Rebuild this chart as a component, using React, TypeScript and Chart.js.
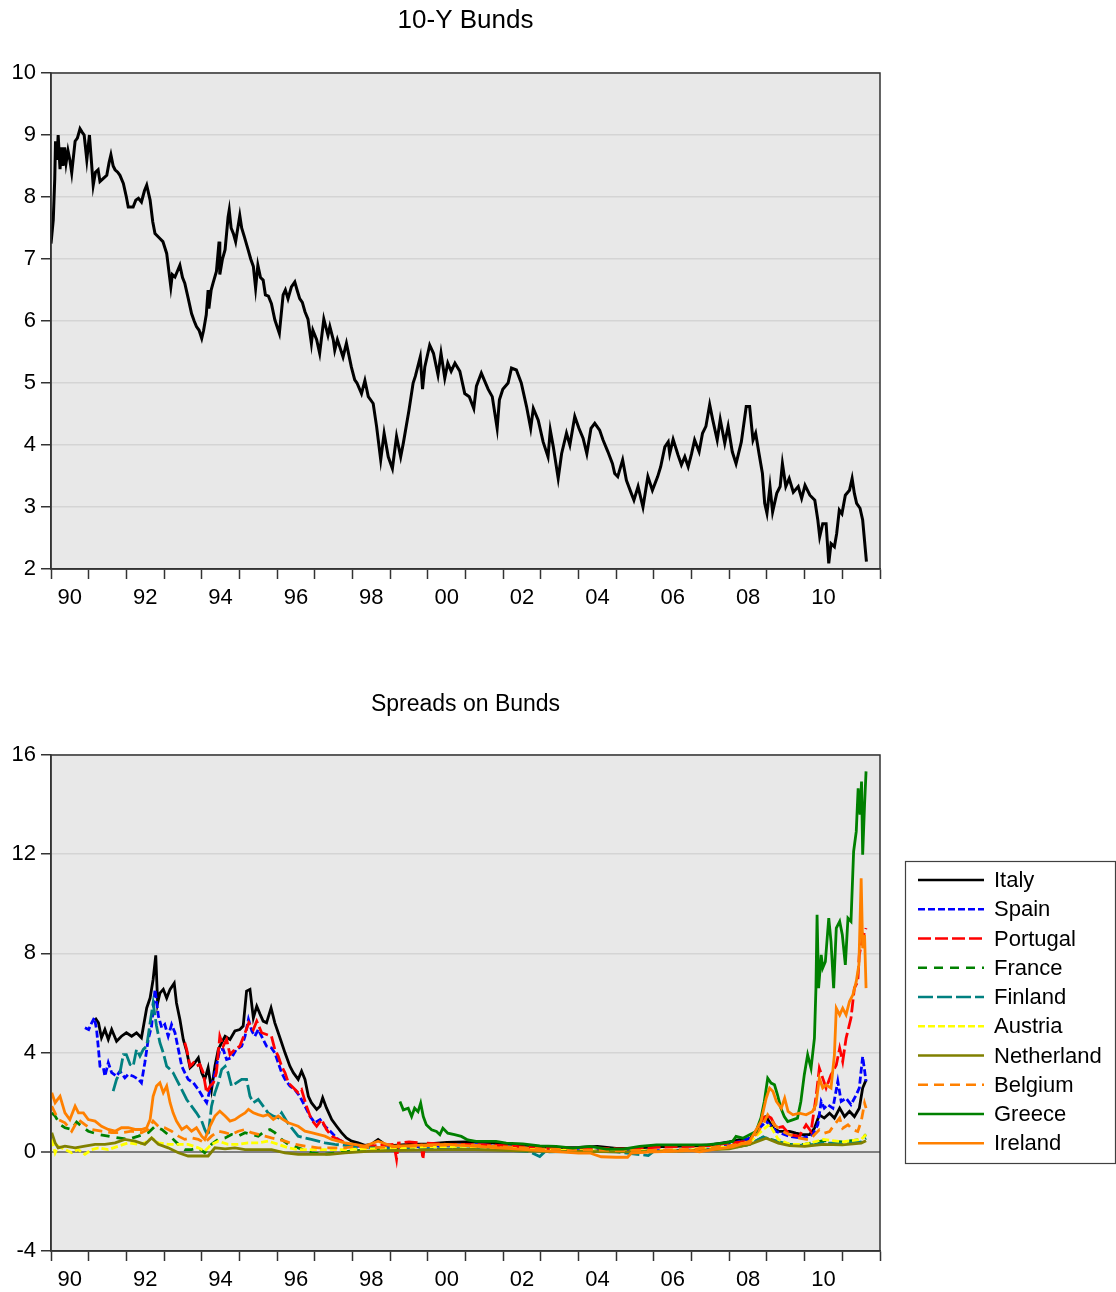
import React, { useEffect, useRef } from 'react';
import { Chart, registerables } from 'chart.js';

Chart.register(...registerables);

type Pt = [number, number];

const FONT = "'Liberation Sans', Arial, Helvetica, sans-serif";

// ---------- axis data ----------
const X_TICK_YEARS = [1990, 1991, 1992, 1993, 1994, 1995, 1996, 1997, 1998, 1999, 2000, 2001, 2002, 2003, 2004, 2005, 2006, 2007, 2008, 2009, 2010, 2011, 2012];
const X_LABEL_YEARS = [1990, 1992, 1994, 1996, 1998, 2000, 2002, 2004, 2006, 2008, 2010];
const X_LABELS = ['90', '92', '94', '96', '98', '00', '02', '04', '06', '08', '10'];

const TITLE_TOP = '10-Y Bunds';
const TITLE_BOTTOM = 'Spreads on Bunds';

// ---------- 10-Y Bund yield ----------
const BUNDS: Pt[] = [
  [1990.00, 7.25], [1990.06, 7.63], [1990.10, 8.3], [1990.12, 8.9], [1990.16, 8.6], [1990.19, 9.0], [1990.24, 8.45], [1990.28, 8.8], [1990.32, 8.5], [1990.36, 8.8], [1990.40, 8.55], [1990.45, 8.75], [1990.50, 8.6], [1990.55, 8.39], [1990.64, 8.9], [1990.70, 8.95], [1990.77, 9.1], [1990.82, 9.05], [1990.88, 9.0], [1990.95, 8.6], [1991.02, 9.0], [1991.07, 8.6], [1991.12, 8.19], [1991.18, 8.4], [1991.25, 8.44], [1991.30, 8.25], [1991.39, 8.3], [1991.48, 8.35], [1991.54, 8.55], [1991.59, 8.68], [1991.65, 8.5], [1991.70, 8.44], [1991.77, 8.4], [1991.83, 8.35], [1991.92, 8.22], [1992.00, 8.0], [1992.05, 7.84], [1992.18, 7.84], [1992.25, 7.95], [1992.32, 7.98], [1992.40, 7.92], [1992.48, 8.1], [1992.54, 8.19], [1992.63, 7.95], [1992.70, 7.6], [1992.76, 7.41], [1992.89, 7.33], [1992.97, 7.28], [1993.07, 7.09], [1993.18, 6.55], [1993.22, 6.75], [1993.29, 6.71], [1993.42, 6.9], [1993.49, 6.7], [1993.55, 6.61], [1993.64, 6.37], [1993.73, 6.12], [1993.80, 6.0], [1993.86, 5.91], [1993.93, 5.85], [1994.00, 5.72], [1994.05, 5.85], [1994.12, 6.1], [1994.17, 6.5], [1994.19, 6.2], [1994.25, 6.5], [1994.30, 6.61], [1994.39, 6.8], [1994.46, 7.28], [1994.48, 6.75], [1994.55, 7.0], [1994.62, 7.15], [1994.70, 7.68], [1994.73, 7.79], [1994.78, 7.5], [1994.84, 7.41], [1994.90, 7.28], [1995.01, 7.7], [1995.06, 7.5], [1995.13, 7.36], [1995.23, 7.15], [1995.30, 7.0], [1995.37, 6.88], [1995.43, 6.53], [1995.49, 6.9], [1995.56, 6.7], [1995.63, 6.66], [1995.69, 6.42], [1995.77, 6.4], [1995.85, 6.28], [1995.94, 6.02], [1996.06, 5.8], [1996.16, 6.42], [1996.22, 6.5], [1996.29, 6.36], [1996.38, 6.55], [1996.47, 6.63], [1996.53, 6.5], [1996.60, 6.36], [1996.67, 6.3], [1996.74, 6.15], [1996.82, 6.03], [1996.91, 5.64], [1996.95, 5.85], [1997.05, 5.7], [1997.13, 5.48], [1997.24, 6.03], [1997.35, 5.77], [1997.40, 5.91], [1997.49, 5.7], [1997.53, 5.53], [1997.60, 5.7], [1997.68, 5.55], [1997.75, 5.42], [1997.84, 5.64], [1997.97, 5.26], [1998.06, 5.05], [1998.12, 5.0], [1998.24, 4.83], [1998.33, 5.04], [1998.42, 4.78], [1998.55, 4.67], [1998.64, 4.3], [1998.75, 3.76], [1998.84, 4.19], [1998.95, 3.81], [1999.06, 3.62], [1999.17, 4.14], [1999.28, 3.81], [1999.35, 4.03], [1999.50, 4.56], [1999.61, 5.0], [1999.67, 5.11], [1999.80, 5.42], [1999.86, 4.9], [1999.92, 5.26], [2000.05, 5.61], [2000.15, 5.48], [2000.27, 5.13], [2000.35, 5.48], [2000.45, 5.08], [2000.53, 5.32], [2000.62, 5.19], [2000.72, 5.32], [2000.85, 5.19], [2000.98, 4.83], [2001.10, 4.78], [2001.22, 4.59], [2001.29, 4.95], [2001.42, 5.16], [2001.51, 5.03], [2001.60, 4.9], [2001.71, 4.78], [2001.84, 4.27], [2001.90, 4.73], [2001.99, 4.9], [2002.13, 5.0], [2002.22, 5.24], [2002.35, 5.21], [2002.48, 5.0], [2002.62, 4.62], [2002.73, 4.27], [2002.80, 4.59], [2002.93, 4.4], [2003.06, 4.05], [2003.19, 3.81], [2003.25, 4.24], [2003.33, 3.97], [2003.46, 3.46], [2003.55, 3.86], [2003.68, 4.19], [2003.77, 4.0], [2003.90, 4.46], [2004.01, 4.27], [2004.12, 4.11], [2004.22, 3.86], [2004.33, 4.27], [2004.43, 4.35], [2004.56, 4.24], [2004.65, 4.08], [2004.78, 3.89], [2004.90, 3.7], [2004.96, 3.54], [2005.04, 3.49], [2005.17, 3.76], [2005.27, 3.43], [2005.40, 3.22], [2005.47, 3.11], [2005.58, 3.33], [2005.71, 3.0], [2005.84, 3.49], [2005.96, 3.27], [2006.10, 3.49], [2006.18, 3.65], [2006.29, 3.97], [2006.38, 4.05], [2006.42, 3.86], [2006.51, 4.09], [2006.64, 3.84], [2006.73, 3.68], [2006.82, 3.81], [2006.91, 3.65], [2007.00, 3.86], [2007.08, 4.08], [2007.20, 3.89], [2007.29, 4.19], [2007.38, 4.3], [2007.48, 4.65], [2007.56, 4.41], [2007.68, 4.08], [2007.76, 4.41], [2007.88, 4.03], [2007.97, 4.3], [2008.08, 3.89], [2008.18, 3.7], [2008.32, 4.05], [2008.45, 4.62], [2008.54, 4.62], [2008.63, 4.08], [2008.70, 4.19], [2008.79, 3.86], [2008.88, 3.54], [2008.94, 3.06], [2009.00, 2.9], [2009.08, 3.33], [2009.15, 2.92], [2009.26, 3.22], [2009.35, 3.33], [2009.41, 3.7], [2009.50, 3.33], [2009.59, 3.46], [2009.70, 3.24], [2009.83, 3.33], [2009.92, 3.14], [2010.01, 3.35], [2010.14, 3.19], [2010.27, 3.11], [2010.35, 2.79], [2010.40, 2.52], [2010.48, 2.73], [2010.57, 2.73], [2010.64, 2.09], [2010.70, 2.41], [2010.79, 2.36], [2010.85, 2.57], [2010.92, 2.95], [2010.99, 2.89], [2011.08, 3.19], [2011.19, 3.27], [2011.26, 3.46], [2011.32, 3.22], [2011.38, 3.06], [2011.47, 2.98], [2011.54, 2.79], [2011.64, 2.12],
];

// ---------- spreads on Bunds ----------
const ITALY: Pt[] = [
  [1991.17, 5.4], [1991.26, 5.2], [1991.34, 4.6], [1991.43, 4.93], [1991.52, 4.53], [1991.61, 4.93], [1991.74, 4.46], [1991.87, 4.66], [1992.0, 4.8], [1992.14, 4.66], [1992.27, 4.8], [1992.4, 4.6], [1992.54, 5.8], [1992.63, 6.2], [1992.71, 6.95], [1992.78, 7.92], [1992.83, 6.0], [1992.89, 6.4], [1992.98, 6.55], [1993.07, 6.2], [1993.16, 6.55], [1993.27, 6.8], [1993.33, 6.0], [1993.42, 5.34], [1993.51, 4.53], [1993.6, 4.06], [1993.69, 3.39], [1993.78, 3.52], [1993.91, 3.79], [1994.0, 3.19], [1994.08, 2.92], [1994.17, 3.39], [1994.26, 2.51], [1994.35, 3.45], [1994.44, 4.13], [1994.53, 4.4], [1994.62, 4.66], [1994.75, 4.53], [1994.88, 4.87], [1995.01, 4.93], [1995.1, 5.07], [1995.19, 6.48], [1995.28, 6.55], [1995.37, 5.4], [1995.46, 5.87], [1995.55, 5.54], [1995.63, 5.27], [1995.72, 5.2], [1995.84, 5.8], [1995.94, 5.2], [1996.03, 4.8], [1996.12, 4.4], [1996.21, 3.99], [1996.34, 3.45], [1996.43, 3.19], [1996.56, 2.92], [1996.65, 3.25], [1996.74, 2.92], [1996.83, 2.24], [1996.91, 1.98], [1997.05, 1.71], [1997.14, 1.84], [1997.21, 2.18], [1997.31, 1.77], [1997.45, 1.3], [1997.58, 1.03], [1997.71, 0.77], [1997.84, 0.56], [1997.98, 0.43], [1998.15, 0.36], [1998.33, 0.26], [1998.5, 0.3], [1998.68, 0.5], [1998.86, 0.3], [1999.0, 0.25], [1999.5, 0.3], [2000.0, 0.32], [2000.5, 0.38], [2001.0, 0.4], [2001.5, 0.38], [2002.0, 0.32], [2002.5, 0.28], [2003.0, 0.2], [2003.5, 0.16], [2004.0, 0.18], [2004.5, 0.22], [2005.0, 0.14], [2005.5, 0.15], [2006.0, 0.2], [2006.5, 0.22], [2007.0, 0.24], [2007.5, 0.28], [2008.0, 0.4], [2008.3, 0.5], [2008.54, 0.5], [2008.75, 0.9], [2008.89, 1.36], [2008.98, 1.42], [2009.16, 0.95], [2009.33, 0.82], [2009.6, 0.82], [2009.77, 0.75], [2009.95, 0.69], [2010.13, 0.69], [2010.26, 0.95], [2010.39, 1.49], [2010.52, 1.36], [2010.66, 1.56], [2010.79, 1.36], [2010.93, 1.76], [2011.06, 1.42], [2011.19, 1.63], [2011.32, 1.42], [2011.45, 1.76], [2011.54, 2.57], [2011.63, 2.9],
];

const SPAIN: Pt[] = [
  [1990.9, 5.0], [1991.0, 4.93], [1991.08, 5.2], [1991.15, 5.4], [1991.21, 4.93], [1991.26, 4.13], [1991.3, 3.45], [1991.39, 3.39], [1991.43, 3.05], [1991.52, 3.59], [1991.61, 3.19], [1991.74, 3.05], [1991.83, 3.25], [1991.96, 2.98], [1992.05, 3.12], [1992.18, 3.05], [1992.32, 2.92], [1992.4, 2.78], [1992.49, 3.59], [1992.58, 4.53], [1992.67, 5.07], [1992.76, 6.55], [1992.85, 5.47], [1992.94, 5.0], [1993.02, 5.13], [1993.11, 4.66], [1993.2, 5.13], [1993.29, 4.8], [1993.38, 4.13], [1993.47, 3.45], [1993.55, 3.19], [1993.64, 2.92], [1993.78, 2.78], [1993.91, 2.51], [1994.04, 2.18], [1994.13, 1.98], [1994.22, 2.51], [1994.31, 2.92], [1994.39, 3.45], [1994.48, 4.13], [1994.57, 4.13], [1994.66, 3.72], [1994.79, 3.79], [1994.92, 4.13], [1995.06, 4.26], [1995.15, 4.66], [1995.24, 5.34], [1995.33, 4.87], [1995.41, 4.66], [1995.5, 4.93], [1995.63, 4.53], [1995.72, 4.26], [1995.85, 4.19], [1995.94, 3.99], [1996.03, 3.59], [1996.12, 3.19], [1996.21, 2.92], [1996.34, 2.65], [1996.47, 2.51], [1996.6, 2.24], [1996.74, 1.84], [1996.87, 1.44], [1997.0, 1.17], [1997.14, 1.3], [1997.27, 1.03], [1997.45, 0.77], [1997.62, 0.5], [1997.8, 0.36], [1998.06, 0.23], [1998.5, 0.2], [1999.0, 0.15], [1999.5, 0.2], [2000.0, 0.22], [2000.5, 0.25], [2001.0, 0.3], [2001.5, 0.28], [2002.0, 0.2], [2002.5, 0.15], [2003.0, 0.1], [2003.5, 0.08], [2004.0, 0.05], [2004.5, 0.05], [2005.0, 0.03], [2005.5, 0.02], [2006.0, 0.05], [2006.5, 0.05], [2007.0, 0.08], [2007.5, 0.12], [2008.0, 0.3], [2008.54, 0.55], [2008.89, 1.09], [2008.98, 1.22], [2009.25, 0.82], [2009.6, 0.62], [2009.95, 0.55], [2010.21, 0.69], [2010.35, 1.09], [2010.44, 2.03], [2010.52, 1.76], [2010.61, 1.9], [2010.75, 1.76], [2010.88, 2.84], [2010.97, 2.03], [2011.1, 2.16], [2011.23, 1.9], [2011.37, 2.3], [2011.45, 2.57], [2011.54, 3.84], [2011.63, 2.84],
];

const PORTUGAL: Pt[] = [
  [1993.55, 4.4], [1993.6, 4.13], [1993.69, 3.45], [1993.78, 3.59], [1993.86, 3.45], [1993.95, 3.52], [1994.04, 3.19], [1994.13, 2.38], [1994.22, 2.65], [1994.31, 2.78], [1994.39, 3.19], [1994.48, 4.66], [1994.57, 4.26], [1994.66, 4.53], [1994.75, 3.92], [1994.88, 4.13], [1995.01, 4.26], [1995.15, 4.8], [1995.25, 5.2], [1995.37, 4.93], [1995.46, 5.27], [1995.59, 4.8], [1995.72, 4.73], [1995.85, 4.66], [1995.94, 4.13], [1996.03, 3.86], [1996.12, 3.45], [1996.21, 3.19], [1996.3, 2.78], [1996.43, 2.58], [1996.56, 2.38], [1996.65, 2.51], [1996.78, 1.84], [1996.91, 1.3], [1997.05, 1.03], [1997.18, 1.3], [1997.31, 0.9], [1997.45, 0.63], [1997.62, 0.5], [1997.89, 0.3], [1998.33, 0.23], [1998.7, 0.25], [1999.1, 0.3], [1999.17, -0.3], [1999.22, 0.35], [1999.5, 0.4], [1999.82, 0.35], [1999.87, -0.3], [1999.92, 0.35], [2000.5, 0.3], [2001.0, 0.3], [2001.5, 0.28], [2002.0, 0.25], [2002.5, 0.2], [2003.0, 0.15], [2003.5, 0.12], [2004.0, 0.12], [2004.5, 0.15], [2005.0, 0.12], [2005.5, 0.12], [2006.0, 0.18], [2006.5, 0.2], [2007.0, 0.22], [2007.5, 0.25], [2008.0, 0.35], [2008.54, 0.42], [2008.84, 1.22], [2008.98, 1.49], [2009.11, 1.36], [2009.25, 0.95], [2009.42, 1.02], [2009.6, 0.69], [2009.86, 0.62], [2010.04, 1.09], [2010.17, 0.82], [2010.31, 2.3], [2010.39, 3.37], [2010.48, 2.97], [2010.57, 2.57], [2010.7, 3.1], [2010.84, 3.5], [2010.93, 4.18], [2011.01, 3.64], [2011.1, 4.58], [2011.23, 5.39], [2011.32, 6.6], [2011.41, 6.87], [2011.45, 7.94], [2011.54, 8.62], [2011.63, 9.02],
];

const FRANCE: Pt[] = [
  [1990.02, 1.57], [1990.11, 1.44], [1990.24, 1.1], [1990.37, 0.97], [1990.55, 0.9], [1990.68, 1.2], [1990.81, 1.03], [1990.99, 0.83], [1991.26, 0.7], [1991.52, 0.63], [1991.79, 0.56], [1992.05, 0.5], [1992.32, 0.63], [1992.58, 0.77], [1992.76, 1.03], [1992.94, 0.9], [1993.16, 0.63], [1993.38, 0.3], [1993.55, 0.09], [1993.73, 0.09], [1993.91, 0.16], [1994.08, -0.04], [1994.26, 0.3], [1994.44, 0.5], [1994.62, 0.56], [1994.79, 0.7], [1994.97, 0.63], [1995.15, 0.77], [1995.32, 0.7], [1995.5, 0.63], [1995.68, 0.83], [1995.81, 0.9], [1995.94, 0.77], [1996.12, 0.5], [1996.3, 0.3], [1996.56, 0.16], [1996.91, -0.04], [1997.27, -0.1], [1997.62, -0.04], [1997.98, 0.03], [1998.5, 0.09], [1999.0, 0.08], [2000.0, 0.1], [2001.0, 0.12], [2002.0, 0.1], [2003.0, 0.05], [2004.0, 0.03], [2005.0, 0.02], [2006.0, 0.03], [2007.0, 0.05], [2008.0, 0.15], [2008.54, 0.3], [2008.9, 0.6], [2009.2, 0.45], [2009.6, 0.3], [2010.0, 0.3], [2010.5, 0.45], [2011.0, 0.4], [2011.5, 0.5], [2011.63, 0.7],
];

const FINLAND: Pt[] = [
  [1991.65, 2.45], [1991.74, 2.92], [1991.83, 3.19], [1991.92, 3.92], [1992.0, 3.92], [1992.1, 3.52], [1992.18, 3.45], [1992.27, 4.13], [1992.36, 3.86], [1992.45, 4.13], [1992.54, 4.26], [1992.63, 5.2], [1992.71, 6.0], [1992.8, 5.07], [1992.89, 4.4], [1992.98, 3.99], [1993.07, 3.45], [1993.16, 3.32], [1993.24, 3.19], [1993.33, 2.92], [1993.47, 2.51], [1993.6, 2.11], [1993.73, 1.84], [1993.86, 1.57], [1994.0, 1.24], [1994.08, 0.9], [1994.17, 0.63], [1994.26, 1.84], [1994.35, 2.38], [1994.44, 2.78], [1994.53, 3.32], [1994.62, 3.45], [1994.7, 3.19], [1994.79, 2.65], [1994.92, 2.78], [1995.06, 2.92], [1995.19, 2.92], [1995.28, 2.24], [1995.37, 1.98], [1995.5, 2.11], [1995.63, 1.84], [1995.76, 1.57], [1995.9, 1.44], [1996.03, 1.37], [1996.12, 1.57], [1996.25, 1.24], [1996.38, 0.97], [1996.56, 0.63], [1996.74, 0.56], [1996.91, 0.5], [1997.09, 0.43], [1997.27, 0.36], [1997.53, 0.3], [1997.8, 0.26], [1998.15, 0.16], [1998.59, 0.16], [1999.0, 0.12], [2000.0, 0.12], [2001.0, 0.12], [2002.0, 0.08], [2002.7, 0.0], [2002.97, -0.19], [2003.1, 0.0], [2004.0, 0.02], [2005.0, 0.0], [2005.85, -0.15], [2006.0, 0.03], [2007.0, 0.05], [2008.0, 0.15], [2008.54, 0.3], [2008.9, 0.6], [2009.2, 0.45], [2009.6, 0.3], [2010.0, 0.25], [2010.5, 0.35], [2011.0, 0.35], [2011.5, 0.4], [2011.63, 0.55],
];

const AUSTRIA: Pt[] = [
  [1990.02, 0.5], [1990.11, -0.04], [1990.19, 0.23], [1990.37, 0.09], [1990.55, -0.04], [1990.72, 0.09], [1990.9, -0.1], [1991.08, 0.09], [1991.26, 0.16], [1991.52, 0.09], [1991.79, 0.23], [1992.05, 0.36], [1992.32, 0.3], [1992.49, 0.36], [1992.67, 0.56], [1992.85, 0.36], [1993.11, 0.3], [1993.38, 0.3], [1993.64, 0.3], [1993.91, 0.16], [1994.08, 0.03], [1994.26, 0.3], [1994.44, 0.43], [1994.7, 0.3], [1994.97, 0.3], [1995.23, 0.36], [1995.5, 0.36], [1995.76, 0.43], [1996.03, 0.3], [1996.3, 0.16], [1996.56, 0.09], [1996.91, 0.09], [1997.36, 0.09], [1997.8, 0.09], [1998.5, 0.12], [1999.0, 0.15], [2000.0, 0.2], [2001.0, 0.22], [2002.0, 0.15], [2003.0, 0.08], [2004.0, 0.05], [2005.0, 0.03], [2006.0, 0.05], [2007.0, 0.08], [2008.0, 0.2], [2008.54, 0.4], [2008.9, 0.9], [2009.07, 1.1], [2009.3, 0.5], [2009.6, 0.3], [2010.0, 0.3], [2010.5, 0.5], [2011.0, 0.4], [2011.5, 0.5], [2011.63, 0.7],
];

const NETHERLAND: Pt[] = [
  [1990.02, 0.77], [1990.11, 0.36], [1990.19, 0.16], [1990.37, 0.23], [1990.64, 0.16], [1990.9, 0.23], [1991.17, 0.3], [1991.43, 0.3], [1991.7, 0.36], [1991.96, 0.5], [1992.23, 0.43], [1992.49, 0.3], [1992.67, 0.56], [1992.85, 0.3], [1993.11, 0.16], [1993.38, -0.04], [1993.64, -0.17], [1993.91, -0.17], [1994.17, -0.17], [1994.35, 0.16], [1994.62, 0.12], [1994.88, 0.16], [1995.15, 0.09], [1995.5, 0.09], [1995.85, 0.09], [1996.21, -0.04], [1996.56, -0.1], [1997.0, -0.1], [1997.4, -0.1], [1997.8, -0.04], [1998.5, 0.03], [1999.0, 0.05], [2000.0, 0.08], [2001.0, 0.1], [2002.0, 0.06], [2003.0, 0.02], [2004.0, 0.02], [2005.0, 0.0], [2006.0, 0.02], [2007.0, 0.05], [2008.0, 0.12], [2008.54, 0.3], [2008.98, 0.55], [2009.3, 0.35], [2009.6, 0.25], [2010.0, 0.22], [2010.5, 0.3], [2011.0, 0.28], [2011.5, 0.35], [2011.63, 0.45],
];

const BELGIUM: Pt[] = [
  [1990.02, 1.84], [1990.19, 1.3], [1990.37, 1.17], [1990.55, 0.83], [1990.72, 1.3], [1990.9, 1.1], [1991.08, 0.9], [1991.34, 0.83], [1991.61, 0.77], [1991.87, 0.77], [1992.14, 0.83], [1992.4, 0.77], [1992.58, 0.9], [1992.71, 1.24], [1992.85, 1.03], [1993.02, 0.97], [1993.2, 0.83], [1993.38, 0.63], [1993.55, 0.5], [1993.73, 0.56], [1993.91, 0.5], [1994.08, 0.36], [1994.26, 0.63], [1994.44, 0.83], [1994.62, 0.77], [1994.79, 0.7], [1994.97, 0.83], [1995.15, 0.9], [1995.32, 0.77], [1995.5, 0.7], [1995.68, 0.63], [1995.85, 0.56], [1996.03, 0.5], [1996.21, 0.43], [1996.47, 0.3], [1996.74, 0.23], [1997.09, 0.16], [1997.45, 0.16], [1997.8, 0.16], [1998.15, 0.23], [1998.5, 0.16], [1999.0, 0.2], [2000.0, 0.25], [2001.0, 0.28], [2002.0, 0.2], [2003.0, 0.12], [2004.0, 0.08], [2005.0, 0.05], [2006.0, 0.06], [2007.0, 0.1], [2008.0, 0.25], [2008.54, 0.35], [2008.89, 1.09], [2009.02, 1.49], [2009.2, 1.09], [2009.42, 0.82], [2009.6, 0.69], [2009.86, 0.55], [2010.13, 0.48], [2010.26, 0.69], [2010.39, 0.89], [2010.52, 0.75], [2010.66, 0.82], [2010.79, 1.09], [2010.93, 1.36], [2011.01, 0.95], [2011.15, 1.09], [2011.28, 0.89], [2011.41, 0.82], [2011.5, 1.22], [2011.59, 1.96], [2011.63, 1.76],
];

const GREECE: Pt[] = [
  [1999.26, 2.03], [1999.35, 1.69], [1999.48, 1.76], [1999.57, 1.42], [1999.65, 1.76], [1999.74, 1.62], [1999.81, 1.96], [1999.88, 1.42], [1999.96, 1.09], [2000.1, 0.89], [2000.23, 0.82], [2000.32, 0.69], [2000.4, 0.95], [2000.53, 0.75], [2000.71, 0.69], [2000.89, 0.62], [2001.06, 0.48], [2001.28, 0.42], [2001.55, 0.42], [2001.81, 0.42], [2002.08, 0.35], [2002.52, 0.32], [2002.97, 0.24], [2003.41, 0.22], [2003.85, 0.15], [2004.3, 0.22], [2004.74, 0.11], [2005.18, 0.11], [2005.62, 0.22], [2006.07, 0.28], [2006.51, 0.28], [2006.95, 0.28], [2007.39, 0.28], [2007.83, 0.35], [2008.09, 0.42], [2008.18, 0.62], [2008.36, 0.55], [2008.54, 0.69], [2008.71, 0.82], [2008.84, 1.36], [2008.93, 2.03], [2009.02, 2.97], [2009.11, 2.77], [2009.2, 2.7], [2009.28, 2.3], [2009.37, 1.76], [2009.46, 1.42], [2009.55, 1.22], [2009.68, 1.29], [2009.81, 1.36], [2009.9, 2.03], [2009.99, 3.1], [2010.08, 3.91], [2010.17, 3.37], [2010.26, 4.58], [2010.3, 6.6], [2010.33, 9.56], [2010.37, 6.6], [2010.44, 7.94], [2010.48, 7.41], [2010.55, 7.67], [2010.64, 9.42], [2010.7, 8.48], [2010.77, 6.6], [2010.84, 9.02], [2010.93, 9.29], [2011.0, 8.75], [2011.08, 7.54], [2011.15, 9.42], [2011.23, 9.29], [2011.3, 12.11], [2011.37, 12.92], [2011.42, 14.66], [2011.47, 13.59], [2011.51, 14.93], [2011.54, 11.98], [2011.59, 13.99], [2011.63, 15.34],
];

const IRELAND: Pt[] = [
  [1990.02, 2.38], [1990.11, 1.98], [1990.24, 2.24], [1990.37, 1.57], [1990.5, 1.3], [1990.64, 1.84], [1990.73, 1.57], [1990.86, 1.57], [1990.99, 1.3], [1991.17, 1.24], [1991.34, 1.03], [1991.52, 0.9], [1991.7, 0.83], [1991.87, 0.97], [1992.05, 0.97], [1992.23, 0.9], [1992.4, 0.9], [1992.54, 0.97], [1992.63, 1.3], [1992.71, 2.24], [1992.8, 2.65], [1992.89, 2.78], [1992.98, 2.38], [1993.07, 2.65], [1993.16, 1.98], [1993.24, 1.57], [1993.33, 1.24], [1993.47, 0.9], [1993.6, 1.03], [1993.73, 0.83], [1993.86, 0.97], [1994.0, 0.63], [1994.08, 0.5], [1994.22, 1.03], [1994.35, 1.44], [1994.48, 1.64], [1994.62, 1.44], [1994.75, 1.24], [1994.88, 1.3], [1995.01, 1.44], [1995.15, 1.57], [1995.24, 1.71], [1995.37, 1.57], [1995.5, 1.5], [1995.63, 1.44], [1995.76, 1.5], [1995.9, 1.3], [1996.03, 1.44], [1996.16, 1.3], [1996.3, 1.17], [1996.43, 1.1], [1996.56, 1.03], [1996.74, 0.83], [1996.91, 0.77], [1997.09, 0.7], [1997.27, 0.63], [1997.45, 0.5], [1997.62, 0.43], [1997.8, 0.36], [1998.06, 0.3], [1998.33, 0.23], [1998.68, 0.43], [1999.04, 0.23], [1999.5, 0.25], [2000.0, 0.28], [2000.5, 0.3], [2001.0, 0.25], [2001.5, 0.2], [2002.0, 0.15], [2002.5, 0.1], [2003.0, 0.05], [2003.5, 0.0], [2004.0, -0.05], [2004.3, -0.05], [2004.6, -0.2], [2005.0, -0.22], [2005.3, -0.22], [2005.4, -0.05], [2006.0, 0.0], [2006.5, 0.02], [2007.0, 0.05], [2007.21, 0.0], [2007.6, 0.1], [2008.09, 0.2], [2008.54, 0.42], [2008.84, 1.22], [2008.98, 2.16], [2009.07, 2.57], [2009.16, 2.43], [2009.25, 2.03], [2009.38, 1.76], [2009.47, 2.16], [2009.56, 1.63], [2009.69, 1.49], [2009.86, 1.56], [2010.04, 1.49], [2010.21, 1.63], [2010.3, 1.9], [2010.39, 2.97], [2010.48, 2.57], [2010.57, 2.7], [2010.7, 2.57], [2010.79, 3.91], [2010.84, 5.79], [2010.93, 5.52], [2011.01, 5.79], [2011.1, 5.52], [2011.19, 6.06], [2011.28, 6.33], [2011.37, 6.87], [2011.44, 7.54], [2011.5, 11.03], [2011.54, 8.21], [2011.59, 8.75], [2011.63, 6.6],
];

const SERIES_LABELS = ['Italy', 'Spain', 'Portugal', 'France', 'Finland', 'Austria', 'Netherland', 'Belgium', 'Greece', 'Ireland'];
const SERIES_DATA: Pt[][] = [ITALY, SPAIN, PORTUGAL, FRANCE, FINLAND, AUSTRIA, NETHERLAND, BELGIUM, GREECE, IRELAND];

// ---------- styles ----------
const SERIES_COLORS = ['#000000', '#0000FF', '#FF0000', '#008000', '#008080', '#FFFF00', '#808000', '#FF8000', '#008000', '#FF8000'];
const SERIES_DASH: number[][] = [[], [7, 3], [13, 4], [9, 7], [15, 4], [7, 3], [], [10, 6], [], []];

const PLOT_BG = '#e8e8e8';
const GRID_COLOR = '#d4d4d4';
const AXIS_COLOR = '#333333';

const toXY = (pts: Pt[]) => pts.map(([x, y]) => ({ x, y }));

const xLabel = (v: number) => {
  const i = X_LABEL_YEARS.indexOf(Math.round(v));
  return i >= 0 ? X_LABELS[i] : '';
};

function xScale() {
  return {
    type: 'linear' as const,
    min: X_TICK_YEARS[0],
    max: X_TICK_YEARS[X_TICK_YEARS.length - 1],
    afterBuildTicks: (scale: any) => {
      scale.ticks = X_TICK_YEARS.map((v) => ({ value: v }));
    },
    afterFit: (scale: any) => {
      scale.height = 40;
    },
    ticks: {
      autoSkip: false,
      maxRotation: 0,
      minRotation: 0,
      labelOffset: 18.84,
      padding: 6,
      color: '#000',
      font: { family: FONT, size: 22 },
      callback: (v: any) => xLabel(Number(v)),
    },
    grid: {
      drawOnChartArea: false,
      drawTicks: true,
      tickLength: 10,
      tickColor: AXIS_COLOR,
      tickWidth: 1.5,
    },
    border: { display: true, color: AXIS_COLOR, width: 1.5 },
  };
}

function frameAndTitlePlugin(title: string, titleSize: number, titleY: number, withLegend: boolean) {
  return {
    id: 'frameTitle',
    beforeDraw(chart: any) {
      const { ctx, chartArea: a } = chart;
      ctx.save();
      ctx.fillStyle = PLOT_BG;
      ctx.fillRect(a.left, a.top, a.right - a.left, a.bottom - a.top);
      ctx.restore();
    },
    afterDraw(chart: any) {
      const { ctx, chartArea: a } = chart;
      ctx.save();
      ctx.strokeStyle = AXIS_COLOR;
      ctx.lineWidth = 1.5;
      ctx.strokeRect(a.left, a.top, a.right - a.left, a.bottom - a.top);
      ctx.fillStyle = '#000';
      ctx.font = `${titleSize}px ${FONT}`;
      ctx.textAlign = 'center';
      ctx.textBaseline = 'middle';
      ctx.fillText(title, (a.left + a.right) / 2, titleY);

      if (withLegend) {
        const boxL = 905.5, boxT = 221.5, boxW = 210, boxH = 302;
        ctx.fillStyle = '#ffffff';
        ctx.fillRect(boxL, boxT, boxW, boxH);
        ctx.strokeStyle = '#404040';
        ctx.lineWidth = 1.2;
        ctx.strokeRect(boxL, boxT, boxW, boxH);
        const ds = chart.data.datasets;
        ctx.font = `22px ${FONT}`;
        ctx.textAlign = 'left';
        ctx.textBaseline = 'middle';
        for (let i = 0; i < ds.length; i++) {
          const y = 240 + i * 29.25;
          ctx.beginPath();
          ctx.setLineDash(ds[i].borderDash || []);
          ctx.strokeStyle = ds[i].borderColor;
          ctx.lineWidth = 2.5;
          ctx.moveTo(918, y);
          ctx.lineTo(984, y);
          ctx.stroke();
          ctx.setLineDash([]);
          ctx.fillStyle = '#000';
          ctx.fillText(ds[i].label, 994, y + 1);
        }
      }
      ctx.restore();
    },
  };
}

export default function App() {
  const topRef = useRef<HTMLCanvasElement>(null);
  const botRef = useRef<HTMLCanvasElement>(null);

  useEffect(() => {
    const top = new Chart(topRef.current as HTMLCanvasElement, {
      type: 'line',
      data: {
        datasets: [
          {
            label: '10-Y Bunds',
            data: toXY(BUNDS),
            borderColor: '#000000',
            borderWidth: 3,
            pointRadius: 0,
            tension: 0,
            fill: false,
          },
        ],
      },
      options: {
        responsive: false,
        animation: false,
        events: [],
        layout: { padding: { top: 73, right: 236, bottom: 31, left: 0 } },
        plugins: { legend: { display: false }, title: { display: false }, tooltip: { enabled: false } },
        scales: {
          x: xScale() as any,
          y: {
            min: 2,
            max: 10,
            afterFit: (scale: any) => {
              scale.width = 51;
            },
            ticks: { stepSize: 1, padding: 5, color: '#000', font: { family: FONT, size: 22 } },
            grid: { color: GRID_COLOR, lineWidth: 1.5, tickLength: 10, tickColor: AXIS_COLOR, tickWidth: 1.5 },
            border: { display: true, color: AXIS_COLOR, width: 1.5 },
          },
        },
      },
      plugins: [frameAndTitlePlugin(TITLE_TOP, 26, 21, false)],
    } as any);

    const bottom = new Chart(botRef.current as HTMLCanvasElement, {
      type: 'line',
      data: {
        datasets: SERIES_DATA.map((pts, i) => ({
          label: SERIES_LABELS[i],
          data: toXY(pts),
          borderColor: SERIES_COLORS[i],
          borderDash: SERIES_DASH[i],
          borderWidth: 2.8,
          pointRadius: 0,
          tension: 0,
          fill: false,
          order: -i,
        })),
      },
      options: {
        responsive: false,
        animation: false,
        events: [],
        layout: { padding: { top: 115, right: 236, bottom: 1, left: 0 } },
        plugins: { legend: { display: false }, title: { display: false }, tooltip: { enabled: false } },
        scales: {
          x: xScale() as any,
          y: {
            min: -4,
            max: 16,
            afterFit: (scale: any) => {
              scale.width = 51;
            },
            ticks: { stepSize: 4, padding: 5, color: '#000', font: { family: FONT, size: 22 } },
            grid: {
              color: (c: any) => (c.tick && c.tick.value === 0 ? '#7f7f7f' : GRID_COLOR),
              lineWidth: (c: any) => (c.tick && c.tick.value === 0 ? 2 : 1.5),
              tickLength: 10,
              tickColor: AXIS_COLOR,
              tickWidth: 1.5,
            },
            border: { display: true, color: AXIS_COLOR, width: 1.5 },
          },
        },
      },
      plugins: [frameAndTitlePlugin(TITLE_BOTTOM, 23, 65, true)],
    } as any);

    return () => {
      top.destroy();
      bottom.destroy();
    };
  }, []);

  return (
    <div style={{ position: 'absolute', left: 0, top: 0, width: 1116, height: 1292, background: '#ffffff', overflow: 'hidden' }}>
      <canvas ref={topRef} width={1116} height={640} style={{ position: 'absolute', left: 0, top: 0, width: 1116, height: 640 }} />
      <canvas ref={botRef} width={1116} height={652} style={{ position: 'absolute', left: 0, top: 640, width: 1116, height: 652 }} />
    </div>
  );
}
